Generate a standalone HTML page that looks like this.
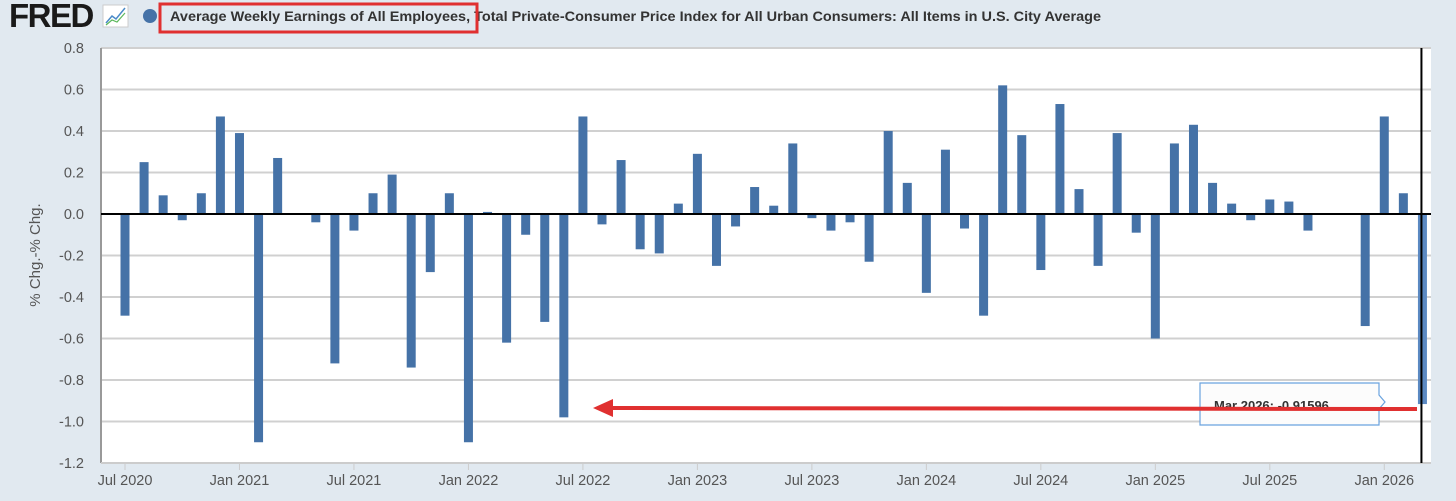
<!DOCTYPE html>
<html><head><meta charset="utf-8"><style>
body{margin:0;background:#e1e9f0;font-family:"Liberation Sans",sans-serif;}
svg{display:block}
</style></head><body>
<svg id="chart" width="1456" height="501" xmlns="http://www.w3.org/2000/svg">
<rect x="0" y="0" width="1456" height="501" fill="#e1e9f0"/>
<text x="9" y="27" font-size="33" font-weight="bold" fill="#1a1a1a" letter-spacing="-1.5">FRED</text>
<g><rect x="103" y="5" width="25" height="22" fill="#fff" stroke="#ccc"/><polyline points="106,23 112,16 116,19 125,8" fill="none" stroke="#4a8ac8" stroke-width="1.5"/><polyline points="106,25 112,20 117,22 125,13" fill="none" stroke="#5cb85c" stroke-width="1.2"/></g>
<circle cx="150" cy="16" r="7" fill="#4572a7"/>
<text x="170" y="21" font-size="14" font-weight="bold" fill="#333" textLength="931" lengthAdjust="spacingAndGlyphs">Average Weekly Earnings of All Employees, Total Private-Consumer Price Index for All Urban Consumers: All Items in U.S. City Average</text>
<rect x="160" y="4" width="317" height="28" fill="none" stroke="#e03030" stroke-width="3"/>
<rect x="101" y="48" width="1330" height="415" fill="#fff"/>
<g id="grid"></g><g id="bars"></g><g id="xaxis"></g>
<text transform="translate(40,255) rotate(-90)" text-anchor="middle" font-size="15" fill="#555">% Chg.-% Chg.</text>
</svg>
<script>
const months=["Jul 2020","Aug 2020","Sep 2020","Oct 2020","Nov 2020","Dec 2020","Jan 2021","Feb 2021","Mar 2021","Apr 2021","May 2021","Jun 2021","Jul 2021","Aug 2021","Sep 2021","Oct 2021","Nov 2021","Dec 2021","Jan 2022","Feb 2022","Mar 2022","Apr 2022","May 2022","Jun 2022","Jul 2022","Aug 2022","Sep 2022","Oct 2022","Nov 2022","Dec 2022","Jan 2023","Feb 2023","Mar 2023","Apr 2023","May 2023","Jun 2023","Jul 2023","Aug 2023","Sep 2023","Oct 2023","Nov 2023","Dec 2023","Jan 2024","Feb 2024","Mar 2024","Apr 2024","May 2024","Jun 2024","Jul 2024","Aug 2024","Sep 2024","Oct 2024","Nov 2024","Dec 2024","Jan 2025","Feb 2025","Mar 2025","Apr 2025","May 2025","Jun 2025","Jul 2025","Aug 2025","Sep 2025","Oct 2025","Nov 2025","Dec 2025","Jan 2026","Feb 2026","Mar 2026"];
const values=[-0.49,0.25,0.09,-0.03,0.10,0.47,0.39,-1.10,0.27,0,-0.04,-0.72,-0.08,0.10,0.19,-0.74,-0.28,0.10,-1.10,0.01,-0.62,-0.10,-0.52,-0.98,0.47,-0.05,0.26,-0.17,-0.19,0.05,0.29,-0.25,-0.06,0.13,0.04,0.34,-0.02,-0.08,-0.04,-0.23,0.40,0.15,-0.38,0.31,-0.07,-0.49,0.62,0.38,-0.27,0.53,0.12,-0.25,0.39,-0.09,-0.60,0.34,0.43,0.15,0.05,-0.03,0.07,0.06,-0.08,null,null,-0.54,0.47,0.10,-0.91596];
const yTicks=[0.8,0.6,0.4,0.2,0.0,-0.2,-0.4,-0.6,-0.8,-1.0,-1.2];
const xTickLabels=["Jul 2020","Jan 2021","Jul 2021","Jan 2022","Jul 2022","Jan 2023","Jul 2023","Jan 2024","Jul 2024","Jan 2025","Jul 2025","Jan 2026"];
const NS="http://www.w3.org/2000/svg";
const y=v=>214-v*207.5;
const x=i=>125+i*19.08;
function mk(t,a,p){const e=document.createElementNS(NS,t);for(const k in a)e.setAttribute(k,a[k]);p.appendChild(e);return e;}
const grid=document.getElementById('grid'),bars=document.getElementById('bars'),xa=document.getElementById('xaxis');
yTicks.forEach(t=>{
 if(t!==0&&t!==-1.2){const l=mk('line',{x1:101,x2:1431,y1:y(t),y2:y(t),stroke:'#d0d0d0','stroke-width':2},grid);
 
 }
 const tx=mk('text',{x:84,y:y(t)+5,'text-anchor':'end','font-size':14.5,fill:'#555'},grid);
 tx.textContent=(t<0?'-':'')+Math.abs(t).toFixed(1);
 
 
});
const al=mk('line',{x1:101,x2:101,y1:48,y2:463,stroke:'#999','stroke-width':2},grid);


const bl=mk('line',{x1:101,x2:1431,y1:463,y2:463,stroke:'#ccc','stroke-width':2},grid);


values.forEach((v,i)=>{
 if(v===null)return;
 const last=i===values.length-1;
 const r=mk('rect',{x:x(i)-4.5,y:Math.min(y(v),y(0)),width:9,height:Math.max(1,Math.abs(y(v)-y(0))),fill:last?'#5b89c2':'#4572a7'},bars);
 
 
});
const z=mk('line',{x1:101,x2:1431,y1:y(0),y2:y(0),stroke:'#000','stroke-width':2},bars);


xTickLabels.forEach(lb=>{
 const i=months.indexOf(lb);
 const tk=mk('line',{x1:x(i),x2:x(i),y1:463,y2:470,stroke:'#ccc'},xa);
 
 
 const t=mk('text',{x:x(i),y:485,'text-anchor':'middle','font-size':14.5,fill:'#555'},xa);
 t.textContent=lb;
 
 
});
const li=values.length-1;
const ch=mk('line',{x1:x(li)-1,x2:x(li)-1,y1:48,y2:463,stroke:'#000','stroke-width':2},xa);


const tip=mk('path',{d:'M1200,383 H1379 V395 L1385,402 L1379,409 V425 H1200 Z',fill:'#fcfcfc',stroke:'#6aa3df','stroke-width':1.2},xa);


const tt=mk('text',{x:1214,y:410,'font-size':13,'font-weight':'bold',fill:'#333'},xa);
tt.textContent='Mar 2026:   -0.91596';


const ar=mk('line',{x1:1417,x2:610,y1:409,y2:408,stroke:'#e03030','stroke-width':4},xa);


const ah=mk('polygon',{points:'593,408 613,399 613,417',fill:'#e03030'},xa);


</script>
</body></html>
